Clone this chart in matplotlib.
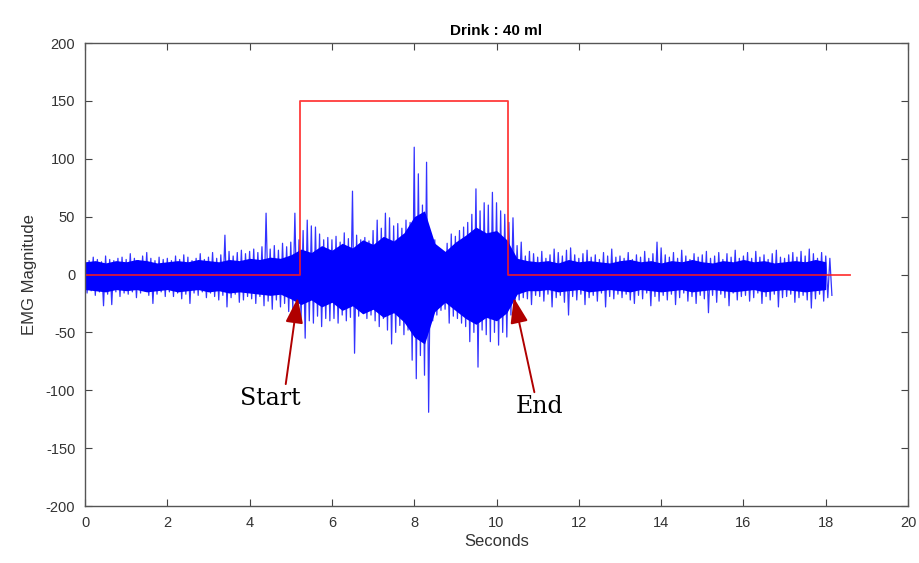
import numpy as np
import matplotlib
matplotlib.use("Agg")
import matplotlib.pyplot as plt

plt.rcParams["axes.unicode_minus"] = False
plt.rcParams["font.family"] = ["Liberation Sans", "DejaVu Sans"]

# EMG trace: positive and negative peak per 0.1 s window, 0.0 s .. 18.1 s
sample_step = 0.1
emg_upper = [
    14, 12, 15, 13, 11, 16, 13, 12, 14, 15,
    13, 18, 14, 12, 16, 19, 14, 12, 15, 13,
    14, 12, 16, 13, 17, 15, 12, 14, 18, 13,
    15, 19, 14, 17, 34, 20, 16, 19, 21, 18,
    20, 22, 19, 24, 53, 22, 25, 21, 27, 24,
    28, 53, 30, 38, 47, 42, 41, 35, 30, 32,
    30, 33, 28, 36, 31, 72, 34, 30, 32, 29,
    38, 47, 40, 53, 49, 42, 44, 40, 47, 45,
    110, 87, 60, 97, 35, 30, 22, 18, 27, 35,
    33, 38, 41, 45, 52, 74, 55, 62, 60, 71,
    62, 55, 52, 45, 49, 25, 28, 16, 20, 18,
    15, 20, 14, 17, 22, 19, 16, 21, 23, 17,
    14, 18, 21, 15, 17, 13, 19, 16, 22, 15,
    16, 14, 19, 13, 17, 15, 20, 14, 18, 28,
    23, 17, 15, 19, 14, 21, 16, 13, 18, 15,
    17, 20, 14, 16, 19, 13, 18, 15, 21, 14,
    16, 19, 14, 20, 15, 17, 13, 18, 21, 15,
    14, 17, 19, 15, 20, 16, 22, 18, 14, 19,
    16, 14,
]
emg_lower = [
    -16, -14, -18, -15, -27, -17, -26, -15, -19, -16,
    -17, -15, -20, -16, -14, -18, -25, -17, -15, -19,
    -15, -19, -16, -21, -17, -25, -16, -18, -15, -20,
    -16, -19, -22, -18, -28, -20, -17, -24, -22, -19,
    -21, -25, -19, -27, -23, -30, -22, -28, -25, -32,
    -30, -34, -38, -55, -40, -42, -36, -45, -38, -40,
    -38, -42, -35, -40, -37, -68, -36, -33, -38, -35,
    -40, -45, -38, -48, -60, -50, -44, -52, -48, -74,
    -90, -70, -87, -119, -40, -35, -31, -30, -42, -36,
    -38, -42, -45, -58, -50, -80, -48, -52, -58, -50,
    -61, -50, -54, -35, -25, -22, -20, -21, -26, -18,
    -19, -23, -17, -28, -20, -18, -24, -35, -19, -22,
    -17, -26, -20, -18, -23, -16, -28, -19, -21, -17,
    -20, -17, -22, -25, -18, -21, -16, -27, -19, -23,
    -18, -22, -17, -26, -20, -16, -23, -19, -25, -18,
    -21, -33, -18, -24, -17, -20, -27, -16, -22, -19,
    -18, -23, -20, -16, -25, -19, -22, -17, -28, -20,
    -19, -17, -24, -20, -18, -22, -29, -21, -17, -23,
    -20, -18,
]

# dense body of the signal, sampled every 0.25 s from 0 s to 18 s
core_step = 0.25
core_upper = [
    11, 12, 10, 12, 11, 13, 12, 10, 11, 12, 11, 13, 12, 11, 13, 12,
    14, 13, 15, 14, 17, 22, 19, 25, 21, 27, 23, 30, 26, 33, 29, 36,
    50, 55, 27, 20, 28, 34, 41, 36, 38, 30, 14, 12,
    11, 12, 10, 13, 11, 12, 11, 10, 12, 13, 11, 12, 10, 12, 11, 13,
    11, 10, 12, 11, 13, 11, 12, 10, 11, 12, 11, 13, 11,
]
core_lower = [
    -13, -14, -15, -13, -14, -13, -15, -14, -13, -15, -14, -13, -15, -14,
    -16, -15, -16, -17, -18, -17, -21, -26, -22, -28, -24, -31, -27, -34,
    -30, -37, -33, -41, -54, -60, -32, -24, -31, -38, -43, -37, -40, -33,
    -17, -14,
    -14, -13, -15, -14, -13, -15, -14, -13, -14, -15, -13, -14, -15, -14,
    -13, -15, -14, -13, -14, -15, -14, -13, -15, -14, -13, -14, -15, -14,
    -13,
]

# Swallow marker (onset / offset) drawn as a step
marker_times = [0.0, 5.22, 5.22, 10.28, 10.28, 18.6]
marker_levels = [0, 0, 150, 150, 0, 0]

title_text = "Drink : 40 ml"
x_ticks = [0, 2, 4, 6, 8, 10, 12, 14, 16, 18, 20]
y_ticks = [-200, -150, -100, -50, 0, 50, 100, 150, 200]

# interleave the positive and negative peaks into one trace
up = np.asarray(emg_upper, dtype=float)
lo = np.asarray(emg_lower, dtype=float)
t0 = np.arange(len(up)) * sample_step
trace_t = np.column_stack([t0, t0 + sample_step / 2]).ravel()
trace_v = np.column_stack([up, lo]).ravel()
core_t = np.arange(len(core_upper)) * core_step

fig = plt.figure(figsize=(9.2, 5.63), dpi=100)
ax = fig.add_axes([0.0924, 0.1012, 0.8946, 0.8224])

ax.fill_between(core_t, core_lower, core_upper, color="#0000ff", lw=0)
ax.plot(trace_t, trace_v, color="#0000ff", lw=0.9, alpha=0.8)
ax.plot(marker_times, marker_levels, color="#ff1a1a", lw=1.3, alpha=0.85)

ax.set_xlim(0, 20)
ax.set_ylim(-200, 200)
ax.set_xticks(x_ticks)
ax.set_yticks(y_ticks)
ax.tick_params(direction="in", length=5, width=0.8, top=True, right=True,
               labelsize=10.5, labelcolor="#333333", color="#444444", pad=7)
for s in ax.spines.values():
    s.set_color("#555555")
    s.set_linewidth(1.0)

ax.set_title(title_text, fontsize=11, fontweight="bold", pad=6)
ax.set_xlabel("Seconds", fontsize=12, color="#333333", labelpad=3)
ax.set_ylabel("EMG Magnitude", fontsize=12, color="#333333", labelpad=6)

arrow_kw = dict(arrowstyle="-|>,head_length=1.3,head_width=0.45",
                mutation_scale=12, color="#b00000", lw=1.4,
                shrinkA=0, shrinkB=0)
ax.annotate("Start", xy=(5.17, -20), xytext=(4.5, -107),
            ha="center", va="center", fontsize=17, family="DejaVu Serif",
            arrowprops=dict(arrow_kw, relpos=(0.75, 1.0)))
ax.annotate("End", xy=(10.42, -20), xytext=(11.05, -114),
            ha="center", va="center", fontsize=17, family="DejaVu Serif",
            arrowprops=dict(arrow_kw, relpos=(0.4, 1.0)))

fig.savefig("out.png", dpi=100)
